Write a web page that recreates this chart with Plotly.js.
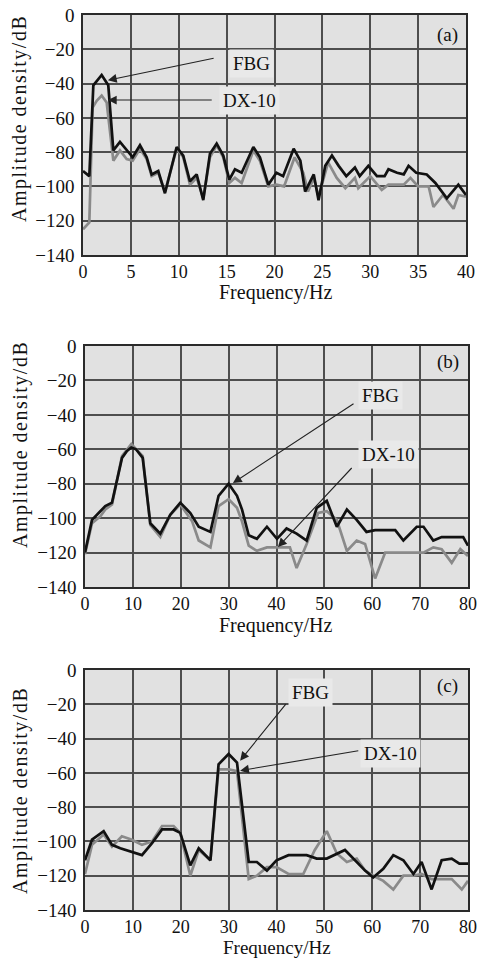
<!DOCTYPE html>
<html>
<head>
<meta charset="utf-8">
<script src="https://cdn.plot.ly/plotly-3.0.1.min.js"></script>
<style>
html,body{margin:0;padding:0;background:#fff;}
#chart{width:477px;height:958px;}
text[data-unformatted="Amplitude density/dB"]{letter-spacing:1.5px;}
</style>
</head>
<body>
<div id="chart"></div>
<script>
// ---- Panel (a): 0-40 Hz ----
var freqA_fbg = [0, 0.66, 1.08, 1.95, 2.64, 3.17, 3.86, 4.56, 5.19, 5.95, 6.65, 7.17, 7.86, 8.56, 9.78, 10.47, 11.17, 11.87, 12.56, 13.26, 13.96, 14.65, 15.28, 15.87, 16.57, 17.79, 18.48, 19.35, 20.2, 20.9, 22.0, 22.7, 23.2, 24.1, 24.6, 25.3, 26.0, 26.7, 27.5, 28.4, 28.9, 29.8, 30.7, 31.5, 31.9, 32.8, 33.5, 34.0, 34.8, 35.9, 36.8, 38.0, 39.2, 40];
var ampA_fbg = [-91, -94, -41, -35, -41, -79, -74, -79, -83, -76, -83, -93, -91, -104, -77, -82, -97, -93, -108, -81, -75, -82, -96, -90, -92, -77, -83, -99, -92, -94, -78, -85, -103, -93, -108, -88, -82, -88, -94, -89, -94, -88, -94, -94, -90, -92, -93, -88, -92, -93, -98, -107, -99, -105];
var freqA_dx = [0, 0.66, 1.0, 1.43, 1.95, 2.47, 3.17, 3.86, 4.56, 5.19, 5.95, 6.65, 7.17, 7.86, 8.56, 9.78, 10.47, 11.17, 11.87, 12.56, 13.26, 13.96, 14.65, 15.28, 15.87, 16.57, 17.79, 18.48, 19.35, 20.2, 21.0, 22.1, 23.0, 23.5, 24.1, 24.6, 25.6, 26.5, 27.4, 28.4, 28.75, 30.0, 31.2, 31.9, 33.5, 34.2, 35.0, 36.1, 36.6, 37.6, 38.7, 39.2, 40];
var ampA_dx = [-125, -121, -54, -50, -47, -51, -85, -79, -84, -85, -78, -84, -94, -92, -103, -78, -83, -99, -95, -107, -83, -76, -83, -98, -95, -98, -79, -85, -100, -99, -100, -83, -92, -103, -95, -106, -86, -95, -101, -95, -101, -94, -102, -99, -99, -95, -100, -100, -112, -105, -113, -105, -106];

// ---- Panel (b): 0-80 Hz ----
var freqB_fbg = [0, 1.46, 3.2, 4.24, 5.64, 7.73, 8.77, 9.67, 10.65, 12.05, 13.64, 15.73, 17.82, 19.91, 22.0, 23.75, 26.2, 27.9, 30.0, 31.75, 32.8, 34.2, 35.9, 38.0, 40.1, 42.1, 44.2, 46.3, 48.4, 50.5, 52.6, 54.7, 56.75, 58.8, 60.6, 64.8, 66.5, 69.3, 70.7, 72.75, 74.5, 79.0, 80];
var ampB_fbg = [-120, -101, -96, -93, -91, -65, -61, -59, -60, -65, -103, -109, -98, -91, -97, -105, -108, -87, -80, -87, -95, -110, -112, -105, -112, -106, -109, -113, -94, -90, -105, -95, -101, -108, -107, -107, -113, -105, -105, -113, -111, -111, -116];
var freqB_dx = [0, 1.46, 3.2, 4.24, 5.64, 7.73, 9.67, 11.0, 12.05, 13.64, 15.73, 17.82, 19.91, 22.4, 23.75, 26.2, 27.9, 30.0, 31.75, 32.8, 34.2, 35.9, 38.0, 40.1, 42.8, 44.2, 46.3, 48.7, 50.5, 52.6, 54.7, 56.75, 58.5, 60.6, 62.7, 70.7, 72.75, 74.5, 76.6, 78.4, 80];
var ampB_dx = [-121, -103, -99, -95, -92, -64, -57, -61, -64, -104, -111, -98, -92, -102, -113, -117, -93, -89, -94, -102, -116, -119, -117, -117, -117, -129, -115, -97, -96, -101, -119, -113, -115, -135, -120, -120, -117, -118, -126, -118, -122];

// ---- Panel (c): 0-80 Hz ----
var freqC_fbg = [0, 1.46, 3.9, 5.64, 7.37, 9.8, 11.9, 14.0, 16.1, 18.5, 19.9, 22.0, 23.75, 26.2, 27.9, 30.0, 31.75, 34.2, 35.9, 38.0, 40.0, 42.5, 46.3, 48.4, 50.5, 54.3, 56.4, 58.5, 60.2, 62.3, 64.4, 66.5, 68.6, 70.3, 72.4, 74.5, 76.6, 78.2, 80];
var ampC_fbg = [-111, -99, -94, -102, -104, -106, -108, -101, -93, -93, -95, -114, -104, -111, -55, -49, -54, -112, -112, -117, -111, -108, -108, -110, -110, -105, -111, -117, -121, -116, -108, -111, -119, -112, -128, -111, -110, -113, -113];
var freqC_dx = [0, 1.46, 3.9, 5.64, 7.7, 9.8, 11.9, 14.0, 16.1, 18.5, 19.9, 22.0, 23.75, 26.2, 27.9, 30.0, 31.75, 34.2, 35.9, 38.0, 40.0, 42.5, 45.6, 48.0, 50.5, 52.6, 54.7, 56.75, 58.5, 60.2, 62.3, 64.4, 66.5, 68.6, 70.3, 72.4, 74.5, 76.6, 78.7, 80];
var ampC_dx = [-119, -102, -96, -103, -97, -99, -102, -100, -91, -91, -95, -120, -105, -111, -58, -58, -59, -122, -120, -115, -115, -119, -119, -105, -94, -107, -112, -110, -117, -120, -123, -128, -120, -120, -119, -122, -122, -122, -128, -123];

var seriesNames = ['FBG', 'DX-10'];
var panelLabels = ['(a)', '(b)', '(c)'];
var xTitle = 'Frequency/Hz';
var yTitle = 'Amplitude density/dB';
var yTickVals = [0, -20, -40, -60, -80, -100, -120, -140];
var yTickText = ['0', '\u221220', '\u221240', '\u221260', '\u221280', '\u2212100', '\u2212120', '\u2212140'];

var FONT = '"Liberation Serif", "Times New Roman", serif';
var GRAY = '#8a8a8a';
var BLACK = '#111111';

function line(x, y, name, color, xa, ya) {
  return {x: x, y: y, name: name, type: 'scatter', mode: 'lines',
    xaxis: xa, yaxis: ya, showlegend: false, hoverinfo: 'skip',
    line: {color: color, width: 2.7}};
}

var data = [
  line(freqA_dx, ampA_dx, seriesNames[1], GRAY, 'x', 'y'),
  line(freqA_fbg, ampA_fbg, seriesNames[0], BLACK, 'x', 'y'),
  line(freqB_dx, ampB_dx, seriesNames[1], GRAY, 'x2', 'y2'),
  line(freqB_fbg, ampB_fbg, seriesNames[0], BLACK, 'x2', 'y2'),
  line(freqC_dx, ampC_dx, seriesNames[1], GRAY, 'x3', 'y3'),
  line(freqC_fbg, ampC_fbg, seriesNames[0], BLACK, 'x3', 'y3')
];

var GRID = '#4e4e4e';
function xaxis(domain, range, dtick, anchor) {
  return {domain: domain, range: range, dtick: dtick, tick0: 0, anchor: anchor,
    showgrid: true, gridcolor: GRID, gridwidth: 2, zeroline: false,
    showline: true, mirror: true, linecolor: '#2a2a2a', linewidth: 1.8,
    ticks: '', ticklabeloverflow: 'allow',
    tickfont: {family: FONT, size: 18, color: '#111'},
    automargin: false, fixedrange: true};
}
function yaxis(domain, anchor) {
  return {domain: domain, range: [-140, 0], tickvals: yTickVals, ticktext: yTickText, anchor: anchor,
    showgrid: true, gridcolor: GRID, gridwidth: 2, zeroline: false,
    showline: true, mirror: true, linecolor: '#2a2a2a', linewidth: 1.8,
    ticks: '', ticklabeloverflow: 'allow', ticklabelstandoff: 3,
    tickfont: {family: FONT, size: 19, color: '#111'},
    automargin: false, fixedrange: true};
}

var MT = 0, MB = 48, ML = 83, MR = 9;
var PH = 958 - MT - MB, PW = 477 - ML - MR;
function dom(top, bottom) { return [1 - (bottom - MT) / PH, 1 - (top - MT) / PH]; }
function px2paperX(px) { return (px - ML) / PW; }
function px2paperY(py) { return 1 - (py - MT) / PH; }

function textAnn(xr, yr, x, y, text, bg) {
  return {xref: xr, yref: yr, x: x, y: y, text: text, showarrow: false,
    font: {family: FONT, size: 19, color: '#111'},
    bgcolor: bg || 'rgba(0,0,0,0)', borderpad: 3, xanchor: 'center', yanchor: 'middle'};
}
function arrowAnn(xr, yr, x, y, ax, ay) {
  return {xref: xr, yref: yr, axref: xr, ayref: yr, x: x, y: y, ax: ax, ay: ay,
    text: '', showarrow: true, arrowhead: 2, arrowsize: 1.6, arrowwidth: 1.1,
    arrowcolor: '#222'};
}
function yTitleAnn(pyCenter) {
  return {xref: 'paper', yref: 'paper', x: px2paperX(20), y: px2paperY(pyCenter),
    text: yTitle, showarrow: false, textangle: -90,
    font: {family: FONT, size: 20, color: '#111'},
    xanchor: 'center', yanchor: 'middle'};
}
function xTitleAnn(pxCenter, pyCenter, size) {
  return {xref: 'paper', yref: 'paper', x: px2paperX(pxCenter), y: px2paperY(pyCenter),
    text: xTitle, showarrow: false,
    font: {family: FONT, size: size, color: '#111'},
    xanchor: 'center', yanchor: 'middle'};
}
var BOXBG = '#e9e9e9';
var annotations = [
  // (a)
  yTitleAnn(119),
  xTitleAnn(275, 293, 20),
  textAnn('x', 'y', 38.1, -11.7, panelLabels[0]),
  textAnn('x', 'y', 17.6, -28, seriesNames[0], BOXBG),
  textAnn('x', 'y', 17.4, -49.6, seriesNames[1], BOXBG),
  arrowAnn('x', 'y', 2.6, -38, 13.8, -25),
  arrowAnn('x', 'y', 2.6, -49.6, 13.6, -49.6),
  // (b)
  yTitleAnn(445),
  xTitleAnn(275, 625, 20),
  textAnn('x2', 'y2', 75.8, -9.3, panelLabels[1]),
  textAnn('x2', 'y2', 61.8, -28.5, seriesNames[0], BOXBG),
  textAnn('x2', 'y2', 63.3, -63.3, seriesNames[1], BOXBG),
  arrowAnn('x2', 'y2', 30.9, -79.6, 56.4, -33),
  arrowAnn('x2', 'y2', 40.3, -116.8, 56.0, -70),
  // (c)
  yTitleAnn(791),
  xTitleAnn(277, 947, 19),
  textAnn('x3', 'y3', 75.8, -9.3, panelLabels[2]),
  textAnn('x3', 'y3', 47.2, -13.4, seriesNames[0], BOXBG),
  textAnn('x3', 'y3', 63.9, -48.8, seriesNames[1], BOXBG),
  arrowAnn('x3', 'y3', 32.4, -52.9, 42.2, -19),
  arrowAnn('x3', 'y3', 32.4, -58.7, 57.4, -47)
];

var layout = {
  width: 477, height: 958,
  margin: {l: ML, r: MR, t: MT, b: MB},
  paper_bgcolor: '#ffffff', plot_bgcolor: '#e1e1e1',
  showlegend: false,
  xaxis: xaxis([0, 383/385], [0, 40], 5, 'y'),
  yaxis: yaxis(dom(15, 255), 'x'),
  xaxis2: xaxis([2/385, 1], [0, 80], 10, 'y2'),
  yaxis2: yaxis(dom(346, 587), 'x2'),
  xaxis3: xaxis([2/385, 1], [0, 80], 10, 'y3'),
  yaxis3: yaxis(dom(670, 910), 'x3'),
  annotations: annotations
};

Plotly.newPlot('chart', data, layout, {displayModeBar: false, staticPlot: true});
</script>
</body>
</html>
